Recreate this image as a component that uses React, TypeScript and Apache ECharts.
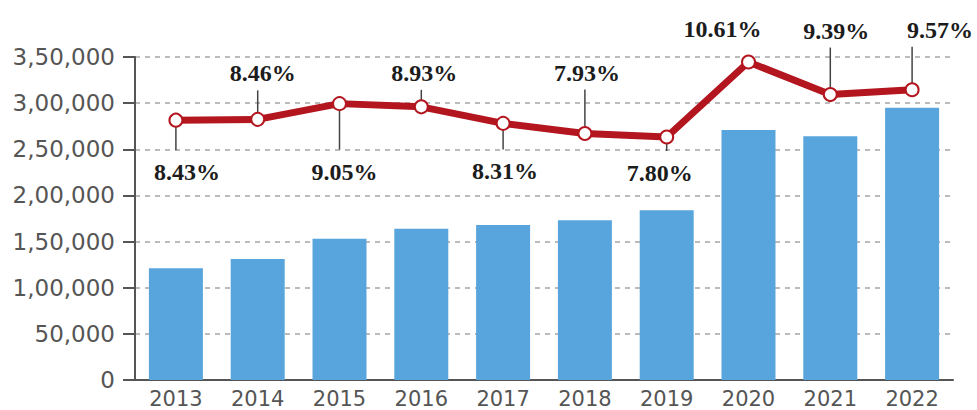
import React, { useEffect, useRef } from "react";
import * as echarts from "echarts";

const years = ["2013", "2014", "2015", "2016", "2017", "2018", "2019", "2020", "2021", "2022"];
const amounts = [121000, 131000, 153000, 164000, 168000, 173000, 184000, 271000, 264000, 295000];
const growth = [8.43, 8.46, 9.05, 8.93, 8.31, 7.93, 7.8, 10.61, 9.39, 9.57];
const growthLabels = ["8.43%", "8.46%", "9.05%", "8.93%", "8.31%", "7.93%", "7.80%", "10.61%", "9.39%", "9.57%"];

// label placement (style only): dx, dy relative to marker, leader line flag
const labelPlacement = [
  { dx: 11, dy: 52, lead: true },
  { dx: 5, dy: -46, lead: true },
  { dx: 5, dy: 68, lead: true },
  { dx: 3, dy: -34, lead: true },
  { dx: 2, dy: 48, lead: true },
  { dx: 2, dy: -61, lead: true },
  { dx: -7, dy: 36, lead: true },
  { dx: -26, dy: -33, lead: false },
  { dx: 6, dy: -64, lead: true },
  { dx: 28, dy: -60, lead: true },
];

const indianFormat = (v: number) => {
  if (v === 0) return "0";
  const s = String(Math.round(v));
  const last3 = s.slice(-3);
  let rest = s.slice(0, -3);
  const parts: string[] = [];
  while (rest.length > 2) {
    parts.unshift(rest.slice(-2));
    rest = rest.slice(0, -2);
  }
  if (rest.length) parts.unshift(rest);
  return parts.length ? parts.join(",") + "," + last3 : last3;
};

const RED = "#b3161e";

export default function App() {
  const ref = useRef<HTMLDivElement>(null);
  useEffect(() => {
    document.body.style.margin = "0";
    if (!ref.current) return;
    const chart = echarts.init(ref.current, null, { renderer: "svg" });
    chart.setOption({
      animation: false,
      backgroundColor: "#ffffff",
      grid: { left: 135, right: 24, top: 57, bottom: 30 },
      xAxis: {
        type: "category",
        data: years,
        axisLine: { lineStyle: { color: "#555", width: 2 } },
        axisTick: { show: false },
        axisLabel: {
          color: "#555",
          fontFamily: "DejaVu Sans",
          fontSize: 21,
          margin: 8,
        },
      },
      yAxis: [
        {
          type: "value",
          min: 0,
          max: 350000,
          interval: 50000,
          axisLine: { show: true, lineStyle: { color: "#555", width: 2 } },
          axisTick: { show: true, length: 12, lineStyle: { color: "#555", width: 2 } },
          axisLabel: {
            color: "#555",
            fontFamily: "DejaVu Sans",
            fontSize: 23,
            margin: 20,
            formatter: (v: number) => indianFormat(v),
          },
          splitLine: { show: true, lineStyle: { color: "#a5a5a5", width: 1.5, type: [5, 5] } },
        },
        {
          type: "value",
          min: -1.305,
          max: 10.797,
          show: false,
          splitLine: { show: false },
        },
      ],
      series: [
        {
          type: "bar",
          data: amounts,
          barCategoryGap: "34%",
          itemStyle: { color: "#58a4dc" },
          z: 1,
        },
        {
          type: "custom",
          yAxisIndex: 1,
          z: 2,
          data: growth.map((g, i) => [i, g]),
          renderItem: (params: any, api: any) => {
            const i = api.value(0);
            const p = api.coord([i, api.value(1)]);
            const lay = labelPlacement[i];
            const ly = p[1] + lay.dy;
            const children: any[] = [];
            if (lay.lead) {
              const below = lay.dy > 0;
              children.push({
                type: "line",
                shape: { x1: p[0], y1: p[1], x2: p[0], y2: below ? ly - 22 : ly + 17 },
                style: { stroke: "#444", lineWidth: 1.5 },
              });
            }
            children.push({
              type: "text",
              style: {
                text: growthLabels[i],
                x: p[0] + lay.dx,
                y: ly,
                align: "center",
                verticalAlign: "middle",
                fontFamily: "Liberation Serif",
                fontWeight: "bold",
                fontSize: 24,
                fill: "#1c1c1c",
              },
            });
            return { type: "group", children };
          },
        },
        {
          type: "line",
          yAxisIndex: 1,
          data: growth,
          z: 3,
          lineStyle: { color: RED, width: 7 },
          symbol: "circle",
          symbolSize: 13,
          itemStyle: { color: "#ffffff", borderColor: RED, borderWidth: 2 },
        },
      ],
    });
    return () => chart.dispose();
  }, []);
  return <div ref={ref} style={{ width: 977, height: 410 }} />;
}
